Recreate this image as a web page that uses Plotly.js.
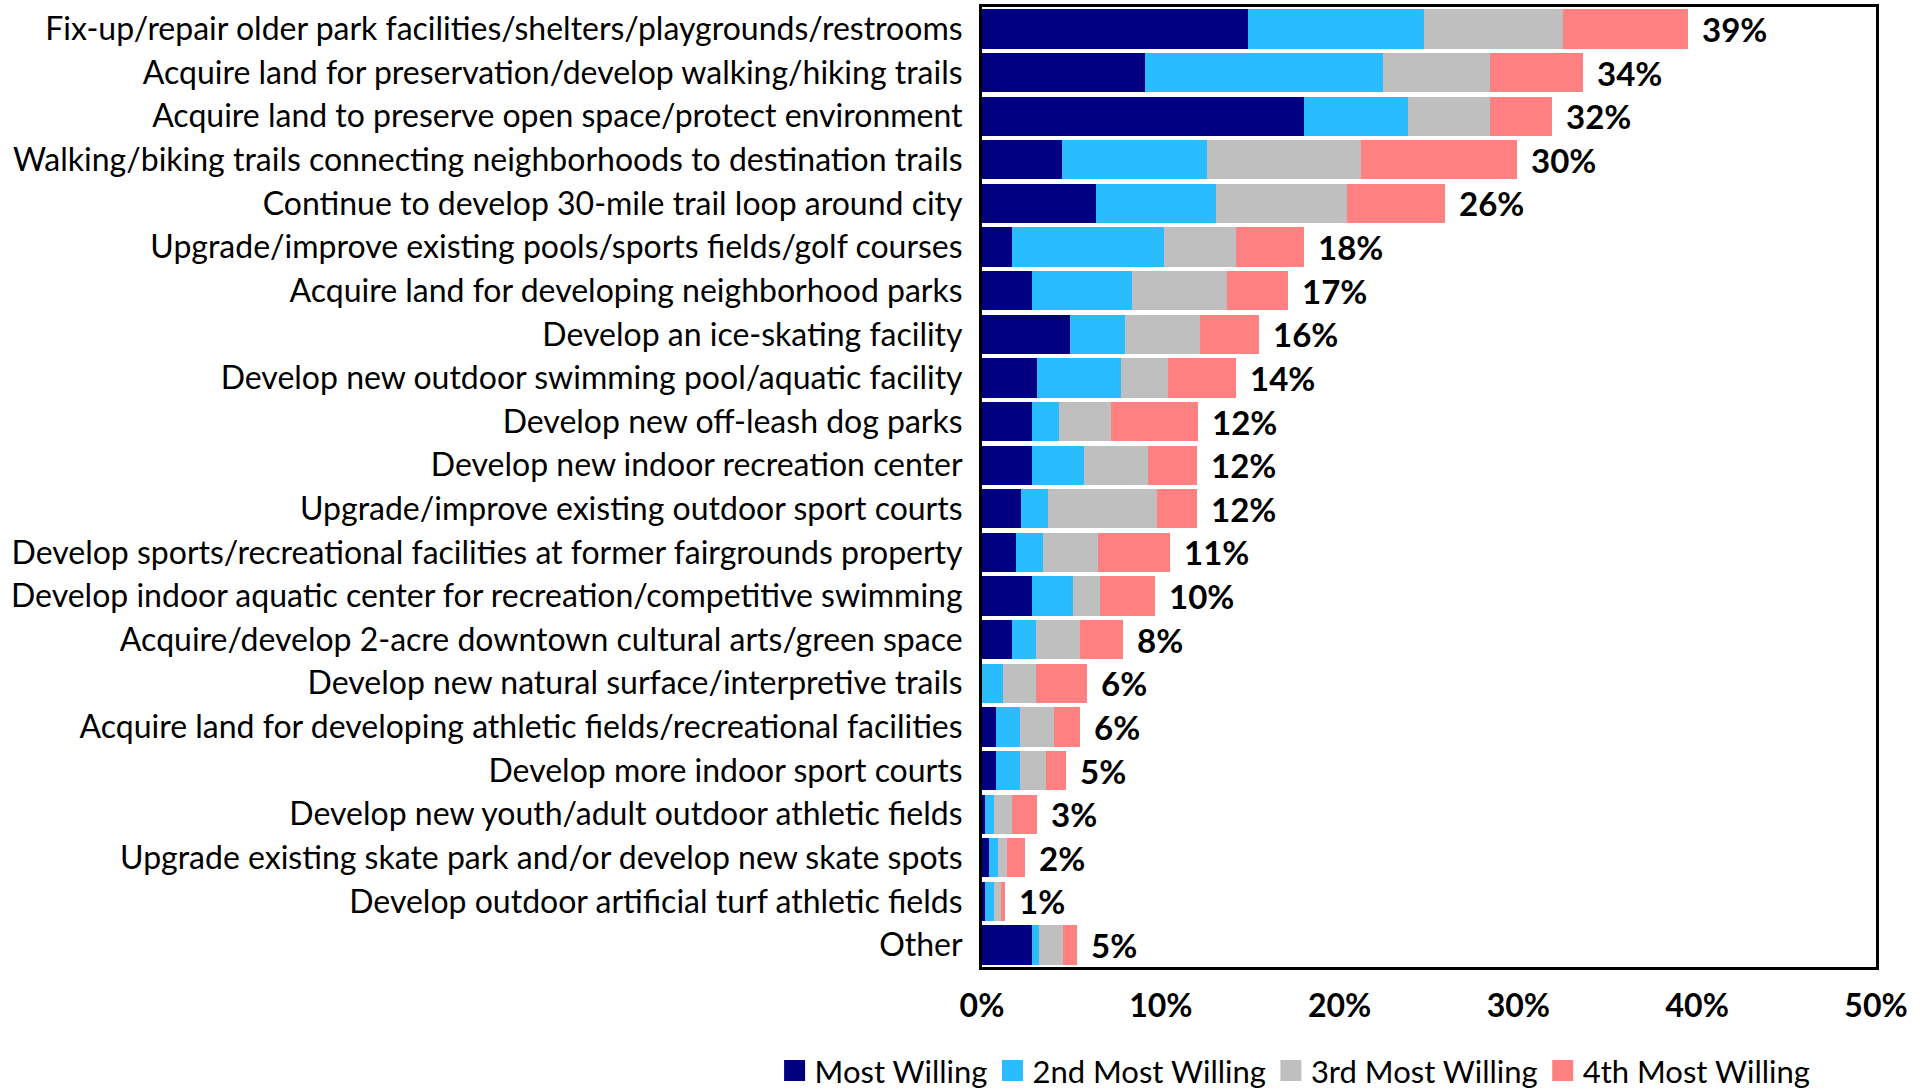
<!DOCTYPE html>
<html>
<head>
<meta charset="utf-8">
<script src="https://cdn.plot.ly/plotly-3.0.1.min.js"></script>
<style>html,body{margin:0;padding:0;background:#fff;}#chart{width:1929px;height:1092px;}</style>
</head>
<body>
<div id="chart"></div>
<script>
const categories = [
  "Fix-up/repair older park facilities/shelters/playgrounds/restrooms",
  "Acquire land for preservation/develop walking/hiking trails",
  "Acquire land to preserve open space/protect environment",
  "Walking/biking trails connecting neighborhoods to destination trails",
  "Continue to develop 30-mile trail loop around city",
  "Upgrade/improve existing pools/sports fields/golf courses",
  "Acquire land for developing neighborhood parks",
  "Develop an ice-skating facility",
  "Develop new outdoor swimming pool/aquatic facility",
  "Develop new off-leash dog parks",
  "Develop new indoor recreation center",
  "Upgrade/improve existing outdoor sport courts",
  "Develop sports/recreational facilities at former fairgrounds property",
  "Develop indoor aquatic center for recreation/competitive swimming",
  "Acquire/develop 2-acre downtown cultural arts/green space",
  "Develop new natural surface/interpretive trails",
  "Acquire land for developing athletic fields/recreational facilities",
  "Develop more indoor sport courts",
  "Develop new youth/adult outdoor athletic fields",
  "Upgrade existing skate park and/or develop new skate spots",
  "Develop outdoor artificial turf athletic fields",
  "Other"
];
const mostWilling   = [14.9, 9.1, 18.0, 4.5, 6.4, 1.7, 2.8, 4.9, 3.1, 2.8, 2.8, 2.2, 1.9, 2.8, 1.7, 0.0, 0.8, 0.8, 0.15, 0.4, 0.15, 2.8];
const second        = [9.8, 13.3, 5.8, 8.1, 6.7, 8.5, 5.6, 3.1, 4.7, 1.5, 2.9, 1.5, 1.5, 2.3, 1.3, 1.2, 1.3, 1.3, 0.5, 0.5, 0.5, 0.4];
const third         = [7.8, 6.0, 4.6, 8.6, 7.3, 4.0, 5.3, 4.2, 2.6, 2.9, 3.6, 6.1, 3.1, 1.5, 2.5, 1.8, 1.9, 1.5, 1.05, 0.5, 0.4, 1.35];
const fourth        = [7.0, 5.2, 3.5, 8.7, 5.5, 3.8, 3.4, 3.3, 3.8, 4.9, 2.7, 2.2, 4.0, 3.1, 2.4, 2.9, 1.5, 1.1, 1.35, 1.0, 0.25, 0.75];
const totalLabels   = ["39%", "34%", "32%", "30%", "26%", "18%", "17%", "16%", "14%", "12%", "12%", "12%", "11%", "10%", "8%", "6%", "6%", "5%", "3%", "2%", "1%", "5%"];
const seriesNames   = ["Most Willing", "2nd Most Willing", "3rd Most Willing", "4th Most Willing"];
const xTickVals     = [0, 10, 20, 30, 40, 50];
const xTickText     = ["0%", "10%", "20%", "30%", "40%", "50%"];

const colors = ["#000080", "#29BCFF", "#BFBFBF", "#FF8080"];
const seriesData = [mostWilling, second, third, fourth];
const FONT = "Lato, Open Sans, sans-serif";

const traces = seriesData.map((vals, i) => ({
  type: "bar",
  orientation: "h",
  name: seriesNames[i],
  x: vals,
  y: categories,
  marker: {color: colors[i], line: {width: 0}},
  showlegend: false,
  hoverinfo: "x+name"
}));

// legend-only entries with larger square swatches
seriesNames.forEach((n, i) => traces.push({
  type: "scatter", mode: "markers", name: n,
  x: [null], y: [null],
  marker: {symbol: "square", size: 16, color: colors[i], line: {color: colors[i], width: 5}},
  showlegend: true, hoverinfo: "skip"
}));

const totals = categories.map((c, k) => seriesData.reduce((s, arr) => s + arr[k], 0));
const annotations = categories.map((c, k) => ({
  x: totals[k], y: c, xref: "x", yref: "y",
  text: totalLabels[k], showarrow: false,
  xanchor: "left", yanchor: "middle", xshift: 12,
  font: {family: FONT, size: 33, color: "#000", weight: "bold"}
}));

const layout = {
  width: 1929, height: 1092,
  margin: {l: 982, r: 53, t: 7, b: 125, pad: 0, autoexpand: false},
  barmode: "stack",
  bargap: 0.1,
  paper_bgcolor: "#fff",
  plot_bgcolor: "#fff",
  showlegend: true,
  font: {family: FONT, color: "#000"},
  xaxis: {
    range: [0, 50],
    tickvals: xTickVals, ticktext: xTickText,
    showgrid: false, zeroline: false,
    showline: true, mirror: true, linecolor: "#000", linewidth: 3,
    ticks: "", ticklen: 0,
    ticklabelstandoff: 9,
    tickfont: {family: FONT, size: 32, color: "#000", weight: "bold"},
    automargin: false
  },
  yaxis: {
    type: "category",
    autorange: "reversed",
    showgrid: false, zeroline: false,
    showline: true, mirror: true, linecolor: "#000", linewidth: 3,
    ticks: "", ticklen: 0,
    ticklabelstandoff: 10,
    tickfont: {family: FONT, size: 32, color: "#000"},
    automargin: false
  },
  legend: {
    orientation: "h",
    x: -0.232, xanchor: "left",
    y: -0.1083, yanchor: "middle",
    font: {family: FONT, size: 31, color: "#000"},
    traceorder: "normal",
    itemwidth: 30,
    tracegroupgap: 0
  },
  annotations: annotations
};

Plotly.newPlot("chart", traces, layout, {displayModeBar: false, staticPlot: true});
</script>
</body>
</html>
